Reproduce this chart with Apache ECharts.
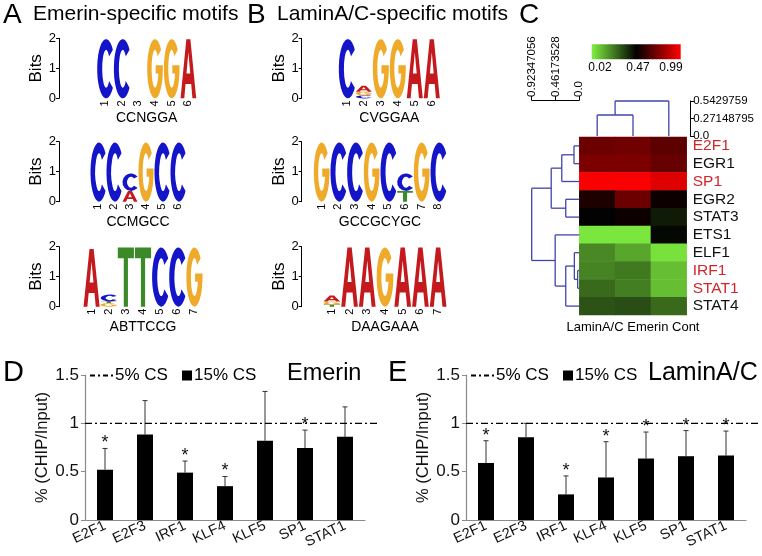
<!DOCTYPE html>
<html><head><meta charset="utf-8">
<script src="https://cdn.jsdelivr.net/npm/echarts@6/dist/echarts.min.js"></script>
<style>html,body{margin:0;padding:0;background:#fff}#c{width:762px;height:556px}</style>
</head><body><div id="c"></div>
<script>
// ================= DATA =================
// Sequence logos: each position = stack bottom->top of [letter, bits]
const motifNamesA = ['CCNGGA', 'CCMGCC', 'ABTTCCG'];
const motifNamesB = ['CVGGAA', 'GCCGCYGC', 'DAAGAAA'];
const logoA1 = [[['C',1.97]], [['C',1.97]], [], [['G',1.97]], [['G',1.97]], [['A',1.97]]];
const logoA2 = [[['C',1.97]], [['C',1.97]], [['A',0.36],['C',0.58]], [['G',1.97]], [['C',1.97]], [['C',1.97]]];
const logoA3 = [[['A',1.92]], [['G',0.12],['T',0.06],['C',0.22]], [['T',1.97]], [['T',1.97]], [['C',1.97]], [['C',1.97]], [['G',1.97]]];
const logoB1 = [[['C',1.97]], [['C',0.1],['G',0.12],['A',0.2]], [['G',1.97]], [['G',1.97]], [['A',1.97]], [['A',1.97]]];
const logoB2 = [[['G',1.97]], [['C',1.97]], [['C',1.97]], [['G',1.97]], [['C',1.97]], [['T',0.36],['C',0.58]], [['G',1.97]], [['C',1.97]]];
const logoB3 = [[['T',0.07],['G',0.1],['A',0.2]], [['A',1.97]], [['A',1.97]], [['G',1.97]], [['A',1.97]], [['A',1.97]], [['A',1.97]]];
const bitsTicks = [0, 1, 2];

// Heatmap
const hmCols = ['LaminA/C', 'Emerin', 'Cont'];
const hmRows = ['E2F1','EGR1','SP1','EGR2','STAT3','ETS1','ELF1','IRF1','STAT1','STAT4'];
const hmRedRows = ['E2F1','SP1','IRF1','STAT1'];
const hmValues = [
  [0.71, 0.72, 0.68],
  [0.74, 0.74, 0.70],
  [0.98, 0.98, 0.93],
  [0.56, 0.71, 0.53],
  [0.50, 0.53, 0.45],
  [0.04, 0.04, 0.49],
  [0.23, 0.17, 0.05],
  [0.24, 0.26, 0.12],
  [0.29, 0.25, 0.12],
  [0.34, 0.35, 0.29]
];
const colorbarLabels = ['0.02', '0.47', '0.99'];
const colorRange = [0.02, 0.99];
// linkage: [childA, childB, height]; leaves 0..n-1, merge k -> node n+k
const rowLinkage = [[0,1,0.103],[10,2,0.34],[3,4,0.263],[11,12,0.545],[7,8,0.032],[6,14,0.096],[15,9,0.263],[5,16,0.468],[13,17,0.92347056]];
const colLinkage = [[0,1,0.326],[3,2,0.5429759]];
const rowScaleTicks = [0, 0.46173528, 0.92347056];
const rowScaleLabels = ['0.0', '0.46173528', '0.92347056'];
const colScaleTicks = [0, 0.27148795, 0.5429759];
const colScaleLabels = ['0.0', '0.27148795', '0.5429759'];

// ChIP bars
const chipCats = ['E2F1','E2F3','IRF1','KLF4','KLF5','SP1','STAT1'];
const emerinMean = [0.52, 0.885, 0.49, 0.35, 0.82, 0.745, 0.86];
const emerinErrTop = [0.74, 1.235, 0.61, 0.45, 1.33, 0.93, 1.17];
const emerinSig = [1, 0, 1, 1, 0, 1, 0];
const laminMean = [0.59, 0.857, 0.265, 0.44, 0.636, 0.66, 0.667];
const laminErrTop = [0.82, 1.0, 0.456, 0.81, 0.91, 0.925, 0.92];
const laminSig = [1, 0, 1, 1, 1, 1, 1];
const refLevel = 1;
const chipYTicks = [0, 0.5, 1, 1.5];

// ================= STYLE HELPERS =================
const FONT = 'Liberation Sans, Arial, Helvetica, sans-serif';
const LETTERS = 'ACGT';
const LETTER_COLORS = {A:'#c41a1e', C:'#1414c8', G:'#eeaa28', T:'#3a8a28'};
const LETTER_PATHS = {
  A: 'M37,0L63,0L100,100L76,100L68,76L32,76L24,100L0,100Z M38,58L62,58L50,22Z',
  C: 'M88.3,17.9A50,50,0,1,0,88.3,82.1L66.9,70.6A22,32,0,1,1,66.9,29.4Z',
  G: 'M88.3,17.9A50,50,0,1,0,100,50L100,44L54,44L54,58L71.3,58A22,32,0,1,1,66.9,29.4Z',
  T: 'M0,0L100,0L100,18L63,18L63,100L37,100L37,18L0,18Z'
};

function logoData(logo) {
  const out = [];
  logo.forEach((stack, i) => {
    let y = 0;
    stack.forEach(([ch, h]) => { out.push([i, y, y + h, LETTERS.indexOf(ch)]); y += h; });
  });
  return out;
}
function logoRender(params, api) {
  const p = api.value(0), y0 = api.value(1), y1 = api.value(2), li = api.value(3);
  const bw = api.size([1, 0])[0];
  const b = api.coord([p, y0]), t = api.coord([p, y1]);
  const w = bw * 0.94;
  const ch = LETTERS[li];
  return {type:'path', shape:{pathData: LETTER_PATHS[ch], x: b[0]-w/2, y: t[1], width: w, height: Math.max(0.5, b[1]-t[1]), layout:'cover'}, style:{fill: LETTER_COLORS[ch]}};
}
function dendroSegments(linkage, n) {
  const pos = [], h = [], segs = [];
  for (let i = 0; i < n; i++) { pos[i] = i; h[i] = 0; }
  linkage.forEach(([a, b, ht], k) => {
    segs.push([h[a], pos[a], ht, pos[a]]);
    segs.push([h[b], pos[b], ht, pos[b]]);
    segs.push([ht, pos[a], ht, pos[b]]);
    pos[n + k] = (pos[a] + pos[b]) / 2; h[n + k] = ht;
  });
  return segs;
}
const DENDRO_COLOR = '#4046a8';

// ================= LAYOUT =================
const logos = [logoA1, logoA2, logoA3, logoB1, logoB2, logoB3];
const logoNames = motifNamesA.concat(motifNamesB);
const logoLayout = [
  {left:96.7, top:38.3, width:100, axisX:59},
  {left:90, top:141.7, width:96, axisX:59},
  {left:83, top:246.7, width:120, axisX:59},
  {left:338.3, top:38.3, width:102, axisX:301.7},
  {left:313.3, top:141.7, width:133.4, axisX:301.7},
  {left:323, top:246.7, width:124, axisX:301.7}
];

const grids = [], xAxes = [], yAxes = [], series = [];
logos.forEach((lg, k) => {
  const L = logoLayout[k];
  grids.push({left:L.left, top:L.top, width:L.width, height:60});
  xAxes.push({gridIndex:k, type:'category', data: lg.map((_, i) => String(i+1)),
    axisLine:{show:false, onZero:false}, axisTick:{show:false},
    axisLabel:{rotate:90, fontSize:11, margin:2, color:'#000', fontFamily:FONT, interval:0},
    name: logoNames[k], nameLocation:'middle', nameGap:13,
    nameTextStyle:{fontSize:14, color:'#000', fontFamily:FONT}});
  yAxes.push({gridIndex:k, type:'value', min:0, max:2, interval:1, offset: L.left - L.axisX,
    axisLine:{show:true, onZero:false, lineStyle:{color:'#000', width:1}},
    axisTick:{show:true, length:3, lineStyle:{color:'#000'}},
    axisLabel:{fontSize:13, margin:3, color:'#000', fontFamily:FONT},
    splitLine:{show:false},
    name:'Bits', nameLocation:'middle', nameGap:14, nameTextStyle:{fontSize:17, color:'#000', fontFamily:FONT}});
  series.push({type:'custom', xAxisIndex:k, yAxisIndex:k, renderItem: logoRender, data: logoData(lg), silent:true});
});

// Heatmap (grid 6)
grids.push({left:579.3, top:137, width:107.4, height:178});
xAxes.push({gridIndex:6, type:'category', data: hmCols, axisLine:{show:false, onZero:false}, axisTick:{show:false}, axisLabel:{show:false},
  name: hmCols.join(' '), nameLocation:'middle', nameGap:6, nameTextStyle:{fontSize:13, color:'#000', fontFamily:FONT, verticalAlign:'top'}});
yAxes.push({gridIndex:6, type:'category', data: hmRows, inverse:true, position:'right',
  axisLine:{show:false, onZero:false}, axisTick:{show:false},
  axisLabel:{margin:6, fontSize:15, fontFamily:FONT, interval:0,
    formatter: v => hmRedRows.includes(v) ? '{r|' + v + '}' : '{k|' + v + '}',
    rich:{r:{color:'#d0262c', fontSize:15.5, fontFamily:FONT}, k:{color:'#111', fontSize:15.5, fontFamily:FONT}}}});
const hmData = [];
hmValues.forEach((row, r) => row.forEach((v, c) => hmData.push([c, r, v])));
const hmSeriesIndex = series.length;
series.push({type:'heatmap', xAxisIndex:6, yAxisIndex:6, data: hmData, silent:true, itemStyle:{borderWidth:0}});

// Row dendrogram (grid 7)
grids.push({left:531.7, top:137, width:47.6, height:178});
xAxes.push({gridIndex:7, type:'value', min:0, max:rowScaleTicks[2], inverse:true, position:'top', offset:37,
  axisLine:{show:true, onZero:false, lineStyle:{color:'#000', width:1}},
  axisTick:{show:true, length:4, customValues: rowScaleTicks, lineStyle:{color:'#000'}},
  axisLabel:{rotate:-90, fontSize:11.5, margin:3, color:'#000', fontFamily:FONT, customValues: rowScaleTicks,
    formatter:(v) => rowScaleLabels[rowScaleTicks.findIndex(t => Math.abs(t - v) < 1e-6)]},
  splitLine:{show:false}});
yAxes.push({gridIndex:7, type:'value', min:-0.5, max:hmRows.length - 0.5, inverse:true, show:false, axisLine:{onZero:false}});
series.push({type:'custom', xAxisIndex:7, yAxisIndex:7, silent:true,
  data: dendroSegments(rowLinkage, hmRows.length),
  renderItem:(params, api) => {
    const a = api.coord([api.value(0), api.value(1)]), b = api.coord([api.value(2), api.value(3)]);
    return {type:'line', shape:{x1:a[0], y1:a[1], x2:b[0], y2:b[1]}, style:{stroke:DENDRO_COLOR, lineWidth:1.3}};
  }});

// Column dendrogram (grid 8)
grids.push({left:579.3, top:101, width:107.4, height:35});
xAxes.push({gridIndex:8, type:'value', min:-0.5, max:hmCols.length - 0.5, show:false, axisLine:{onZero:false}});
yAxes.push({gridIndex:8, type:'value', min:0, max:colScaleTicks[2], position:'right', offset:3.5,
  axisLine:{show:true, onZero:false, lineStyle:{color:'#000', width:1}},
  axisTick:{show:true, length:4, customValues: colScaleTicks, lineStyle:{color:'#000'}},
  axisLabel:{fontSize:11.5, margin:3, color:'#000', fontFamily:FONT, customValues: colScaleTicks,
    formatter:(v) => colScaleLabels[colScaleTicks.findIndex(t => Math.abs(t - v) < 1e-6)]},
  splitLine:{show:false}});
series.push({type:'custom', xAxisIndex:8, yAxisIndex:8, silent:true,
  data: dendroSegments(colLinkage, hmCols.length).map(s => [s[1], s[0], s[3], s[2]]),
  renderItem:(params, api) => {
    const a = api.coord([api.value(0), api.value(1)]), b = api.coord([api.value(2), api.value(3)]);
    return {type:'line', shape:{x1:a[0], y1:a[1], x2:b[0], y2:b[1]}, style:{stroke:DENDRO_COLOR, lineWidth:1.3}};
  }});

// ChIP panels (grids 9, 10)
const chipPanels = [
  {left:85, mean:emerinMean, err:emerinErrTop, sig:emerinSig},
  {left:466, mean:laminMean, err:laminErrTop, sig:laminSig}
];
chipPanels.forEach((P, j) => {
  const gi = 9 + j;
  grids.push({left:P.left, top:375, width:280, height:145});
  xAxes.push({gridIndex:gi, type:'category', data: chipCats,
    axisLine:{show:true, onZero:false, lineStyle:{color:'#8a8a8a', width:1.2}}, axisTick:{show:false},
    axisLabel:{rotate:25, fontSize:14.5, margin:5, color:'#111', fontFamily:FONT, interval:0}});
  yAxes.push({gridIndex:gi, type:'value', min:chipYTicks[0], max:chipYTicks[chipYTicks.length-1], interval:0.5,
    axisLine:{show:true, onZero:false, lineStyle:{color:'#8a8a8a', width:1.2}},
    axisTick:{show:true, length:4, lineStyle:{color:'#8a8a8a'}},
    axisLabel:{fontSize:17, margin:6, color:'#111', fontFamily:FONT},
    splitLine:{show:false},
    name:'% (CHIP/Input)', nameLocation:'middle', nameGap:34, nameTextStyle:{fontSize:16.5, color:'#111', fontFamily:FONT}});
  series.push({name:'15% CS', type:'bar', xAxisIndex:gi, yAxisIndex:gi, data:P.mean, barWidth:16,
    itemStyle:{color:'#000'}, silent:true});
  series.push({type:'custom', xAxisIndex:gi, yAxisIndex:gi, silent:true,
    data: P.mean.map((m, i) => [i, m, P.err[i], P.sig[i]]),
    renderItem:(params, api) => {
      const i = api.value(0);
      const a = api.coord([i, api.value(1)]), b = api.coord([i, api.value(2)]);
      const ch = [
        {type:'line', shape:{x1:a[0], y1:a[1], x2:b[0], y2:b[1]}, style:{stroke:'#333', lineWidth:1}},
        {type:'line', shape:{x1:b[0]-2.5, y1:b[1], x2:b[0]+2.5, y2:b[1]}, style:{stroke:'#333', lineWidth:1}}
      ];
      if (api.value(3)) ch.push({type:'text', x:b[0], y:b[1]-5,
        style:{text:'*', fill:'#111', font:'18px ' + FONT, align:'center', verticalAlign:'middle'}});
      return {type:'group', children:ch};
    }});
  series.push({name:'5% CS', type:'custom', xAxisIndex:gi, yAxisIndex:gi, silent:true, itemStyle:{color:'#000'},
    data:[[0, refLevel]],
    renderItem:(params, api) => {
      const y = api.coord([0, api.value(1)])[1];
      const cs = params.coordSys;
      return {type:'line', shape:{x1:cs.x, y1:y, x2:cs.x + cs.width + 15, y2:y},
        style:{stroke:'#000', lineWidth:1.2, lineDash:[7,3,2,3]}};
    }});
});

const DASHDOT_ICON = 'path://M0,0h5v2h-5z M8,0h2v2h-2z M13,0h5v2h-5z M21,0h2v2h-2z';
const legends = [];
[0, 381].forEach(dx => {
  legends.push({left:90 + dx, top:367, padding:0, itemWidth:23, itemHeight:2, itemGap:4,
    data:[{name:'5% CS', icon:DASHDOT_ICON, itemStyle:{color:'#000'}}],
    textStyle:{fontSize:17, color:'#000', fontFamily:FONT, padding:[0,0,0,-3]}, selectedMode:false});
  legends.push({left:182 + dx, top:367, padding:0, itemWidth:10, itemHeight:10,
    data:[{name:'15% CS', icon:'rect', itemStyle:{color:'#000'}}],
    textStyle:{fontSize:17, color:'#000', fontFamily:FONT, padding:[0,0,0,-3]}, selectedMode:false});
});

const titles = [
  {text:'A', left:3, top:1, textStyle:{fontSize:28, fontWeight:'normal'}},
  {text:'Emerin-specific motifs', left:33, top:4, textStyle:{fontSize:21, fontWeight:'normal'}},
  {text:'B', left:247, top:1, textStyle:{fontSize:28, fontWeight:'normal'}},
  {text:'LaminA/C-specific motifs', left:277, top:4, textStyle:{fontSize:21, fontWeight:'normal'}},
  {text:'C', left:519, top:1, textStyle:{fontSize:28, fontWeight:'normal'}},
  {text:'D', left:3, top:358, textStyle:{fontSize:29, fontWeight:'normal'}},
  {text:'E', left:388, top:358, textStyle:{fontSize:29, fontWeight:'normal'}},
  {text:'Emerin', left:287, top:362, textStyle:{fontSize:23.5, fontWeight:'normal'}},
  {text:'LaminA/C', left:648, top:361, textStyle:{fontSize:25, fontWeight:'normal'}}
].map(t => Object.assign({padding:0}, t, {textStyle:Object.assign({color:'#000', fontFamily:FONT}, t.textStyle)}));

const cbLeft = 591.7, cbTop = 44.3, cbW = 89, cbH = 15;
const graphic = [
  {type:'rect', left:cbLeft, top:cbTop, shape:{width:cbW, height:cbH}, silent:true,
    style:{fill:new echarts.graphic.LinearGradient(0,0,1,0,[{offset:0,color:'#80f040'},{offset:0.5,color:'#000000'},{offset:1,color:'#ff0000'}])}},
  {type:'text', x:600, y:68, silent:true, style:{text:colorbarLabels[0], font:'12px ' + FONT, fill:'#000', align:'center', verticalAlign:'middle'}},
  {type:'text', x:638, y:68, silent:true, style:{text:colorbarLabels[1], font:'12px ' + FONT, fill:'#000', align:'center', verticalAlign:'middle'}},
  {type:'text', x:671, y:68, silent:true, style:{text:colorbarLabels[2], font:'12px ' + FONT, fill:'#000', align:'center', verticalAlign:'middle'}}
];

const chart = echarts.init(document.getElementById('c'), null, {renderer:'canvas'});
chart.setOption({
  backgroundColor:'#fff',
  animation:false,
  textStyle:{fontFamily:FONT},
  title: titles,
  legend: legends,
  grid: grids,
  xAxis: xAxes,
  yAxis: yAxes,
  visualMap:{show:false, type:'continuous', min:colorRange[0], max:colorRange[1], seriesIndex:hmSeriesIndex, dimension:2,
    inRange:{color:['#80f040','#000000','#ff0000']}},
  graphic: graphic,
  series: series
});
</script>
</body></html>
